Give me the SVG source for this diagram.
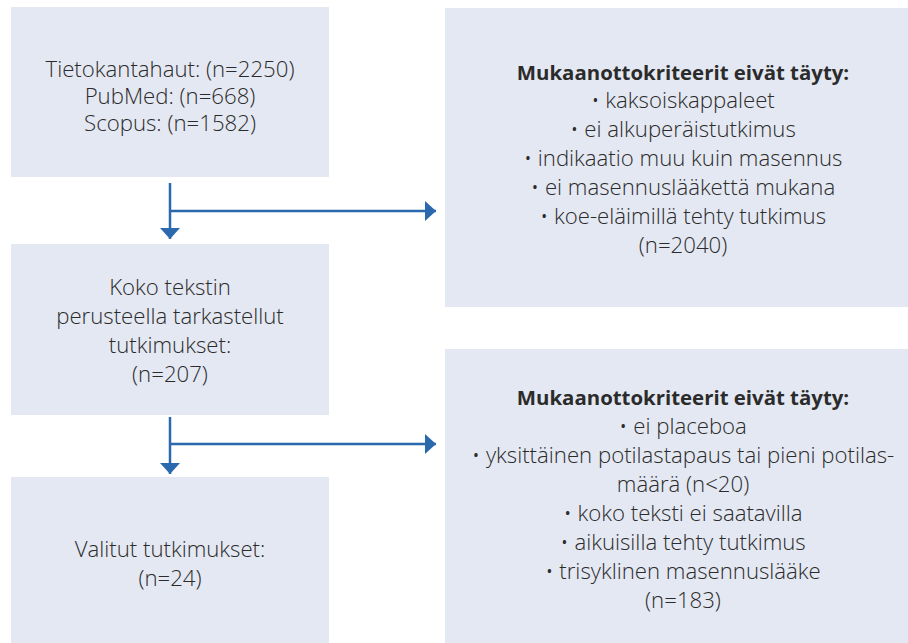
<svg xmlns="http://www.w3.org/2000/svg" width="908" height="643" viewBox="0 0 908 643">
<style>
.box{fill:#e4e8f2}
.t{font-family:"Open Sans","Liberation Sans",sans-serif;font-size:22.2px;font-weight:300;fill:#2b2b2b;text-anchor:middle}
.b{font-weight:bold;font-size:20.4px}
.c{stroke:#2a69ad;stroke-width:2.5;fill:none;marker-end:url(#ah)}
</style>
<defs>
<marker id="ah" markerUnits="userSpaceOnUse" markerWidth="12" markerHeight="22" refX="11" refY="10" orient="auto">
<path d="M0,0 L11,10 L0,20 Z" fill="#2a69ad"/>
</marker>
</defs>
<g id="n1">
<rect class="box" x="11" y="7" width="318" height="170"/>
<text class="t" x="170" y="77">Tietokantahaut: (n=2250)</text>
<text class="t" x="170" y="104">PubMed: (n=668)</text>
<text class="t" x="170" y="131">Scopus: (n=1582)</text>
</g>
<g id="n2">
<rect class="box" x="11" y="244" width="318" height="171"/>
<text class="t" x="170" y="295">Koko tekstin</text>
<text class="t" x="170" y="324">perusteella tarkastellut</text>
<text class="t" x="170" y="353">tutkimukset:</text>
<text class="t" x="170" y="382">(n=207)</text>
</g>
<g id="n3">
<rect class="box" x="11" y="477" width="318" height="166"/>
<text class="t" x="170" y="557">Valitut tutkimukset:</text>
<text class="t" x="170" y="586">(n=24)</text>
</g>
<g id="e1">
<rect class="box" x="445" y="8" width="463" height="299"/>
<text class="t b" x="683" y="80">Mukaanottokriteerit eivät täyty:</text>
<text class="t" x="683" y="108">• kaksoiskappaleet</text>
<text class="t" x="683" y="137">• ei alkuperäistutkimus</text>
<text class="t" x="683" y="166">• indikaatio muu kuin masennus</text>
<text class="t" x="683" y="195">• ei masennuslääkettä mukana</text>
<text class="t" x="683" y="224">• koe-eläimillä tehty tutkimus</text>
<text class="t" x="683" y="253">(n=2040)</text>
</g>
<g id="e2">
<rect class="box" x="445" y="349" width="463" height="294"/>
<text class="t b" x="683" y="405">Mukaanottokriteerit eivät täyty:</text>
<text class="t" x="683" y="434">• ei placeboa</text>
<text class="t" x="683" y="463">• yksittäinen potilastapaus tai pieni potilas-</text>
<text class="t" x="683" y="492">määrä (n&lt;20)</text>
<text class="t" x="683" y="521">• koko teksti ei saatavilla</text>
<text class="t" x="683" y="550">• aikuisilla tehty tutkimus</text>
<text class="t" x="683" y="579">• trisyklinen masennuslääke</text>
<text class="t" x="683" y="608">(n=183)</text>
</g>
<g id="connectors">
<path class="c" d="M170,183 V239"/>
<path class="c" d="M170,211 H436"/>
<path class="c" d="M170,417 V474"/>
<path class="c" d="M170,444 H436"/>
</g>
</svg>
